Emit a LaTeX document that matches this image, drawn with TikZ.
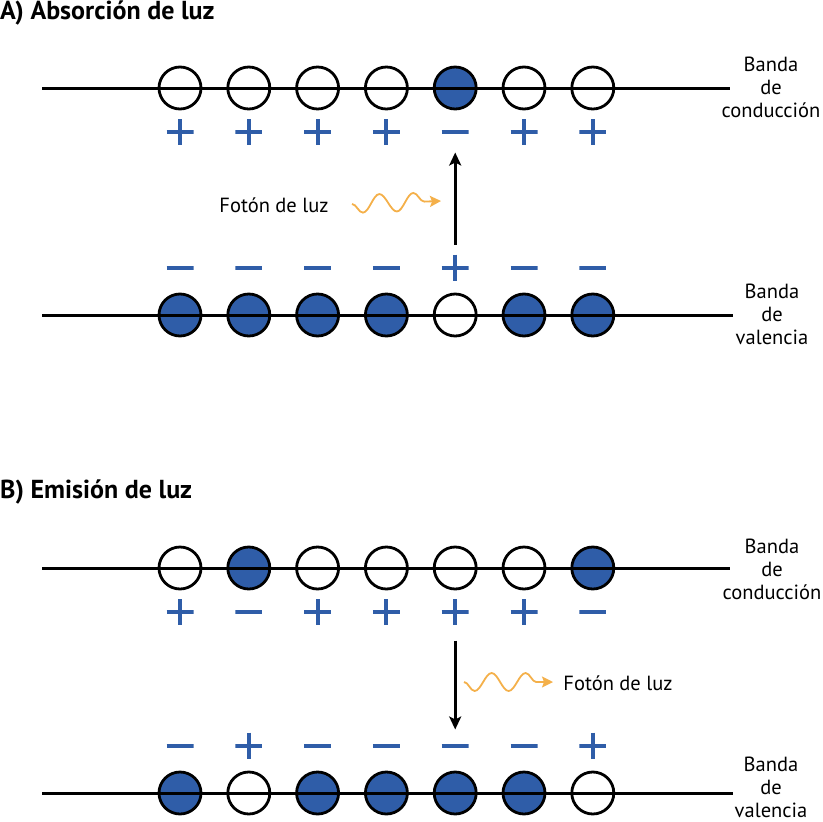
\documentclass[tikz,border=0pt]{standalone}
\usepackage{fontspec}
\setmainfont{PT Sans}
\usetikzlibrary{arrows.meta, positioning, decorations.pathmorphing}
\definecolor{bandblue}{HTML}{2F5DA8}
\definecolor{photon}{HTML}{F4B04A}
\tikzstyle{site} = [circle, draw, line width=2.8pt, minimum size=42pt, inner sep=0pt]
\tikzstyle{empty} = [site, fill=white]
\tikzstyle{full} = [site, fill=bandblue]
\tikzstyle{sign} = [minimum width=27pt, minimum height=26pt, inner sep=0pt]
\tikzstyle{plus} = [sign, path picture={
    \draw [bandblue, line width=4pt] (path picture bounding box.west) -- (path picture bounding box.east)
        (path picture bounding box.north) -- (path picture bounding box.south);}]
\tikzstyle{minus} = [sign, path picture={
    \draw [bandblue, line width=4pt] (path picture bounding box.west) -- (path picture bounding box.east);}]
\tikzstyle{band} = [line width=3pt]
\tikzstyle{jump} = [-{Stealth[length=13pt, width=12pt, inset=3pt]}, line width=3pt]
\tikzstyle{wave} = [photon, line width=1.8pt, -{Stealth[length=11pt, width=11pt, inset=2pt]},
    decorate, decoration={snake, amplitude=9pt, segment length=34pt, post length=16pt, mirror}]
\tikzstyle{title} = [font=\fontsize{26}{30}\selectfont\bfseries, anchor=west, inner sep=0pt]
\tikzstyle{label} = [font=\fontsize{20.5}{23}\selectfont, align=center, inner sep=0pt]

\begin{document}
\begin{tikzpicture}[x=1pt, y=-1pt]
    \useasboundingbox (0,0) rectangle (822,822);

    % A) Absorption.
    \node (titleA) [title] at (0,13) {A) Absorción de luz};
    \foreach\st/\sg [count=\i] in {empty/plus, empty/plus, empty/plus, empty/plus, full/minus, empty/plus, empty/plus} {
        \node (condA\i) [\st] at ({180+68.8*(\i-1)},88) {};
        \node (condAsign\i) [\sg, below=8.7pt of condA\i] {};
    }
    \foreach\st/\sg [count=\i] in {full/minus, full/minus, full/minus, full/minus, empty/plus, full/minus, full/minus} {
        \node (valA\i) [\st] at ({180+68.8*(\i-1)},315) {};
        \node (valAsign\i) [\sg, above=11.7pt of valA\i] {};
    }
    \coordinate (condAleft) at (42,88);
    \coordinate (condAright) at (730,88);
    \coordinate (valAleft) at (42,315);
    \coordinate (valAright) at (733,315);
    \draw [band] (condAleft) -- (condAright);
    \draw [band] (valAleft) -- (valAright);
    \node (condAlabel) [label] at (771,87) {Banda\\de\\conducción};
    \node (valAlabel) [label] at (772,314) {Banda\\de\\valencia};

    \draw [jump, shorten <=10pt, shorten >=7pt] (valAsign5) -- (condAsign5);
    \node (photonA) [label] at (274,205) {Fotón de luz};
    \coordinate (waveAstart) at (352,204);
    \coordinate (waveAend) at (441,201);
    \draw [wave] (waveAstart) -- (waveAend);

    % B) Emission.
    \node (titleB) [title] at (0,492) {B) Emisión de luz};
    \foreach\st/\sg [count=\i] in {empty/plus, full/minus, empty/plus, empty/plus, empty/plus, empty/plus, full/minus} {
        \node (condB\i) [\st] at ({180+68.8*(\i-1)},568) {};
        \node (condBsign\i) [\sg, below=8.7pt of condB\i] {};
    }
    \foreach\st/\sg [count=\i] in {full/minus, empty/plus, full/minus, full/minus, full/minus, full/minus, empty/plus} {
        \node (valB\i) [\st] at ({180+68.8*(\i-1)},793) {};
        \node (valBsign\i) [\sg, above=11.7pt of valB\i] {};
    }
    \coordinate (condBleft) at (42,568);
    \coordinate (condBright) at (730,568);
    \coordinate (valBleft) at (42,793);
    \coordinate (valBright) at (733,793);
    \draw [band] (condBleft) -- (condBright);
    \draw [band] (valBleft) -- (valBright);
    \node (condBlabel) [label] at (772,569) {Banda\\de\\conducción};
    \node (valBlabel) [label] at (771,787) {Banda\\de\\valencia};

    \draw [jump, shorten <=15pt, shorten >=3pt] (condBsign5) -- (valBsign5);
    \node (photonB) [label] at (618,683) {Fotón de luz};
    \coordinate (waveBstart) at (464,682);
    \coordinate (waveBend) at (553,682);
    \draw [wave] (waveBstart) -- (waveBend);
\end{tikzpicture}
\end{document}
